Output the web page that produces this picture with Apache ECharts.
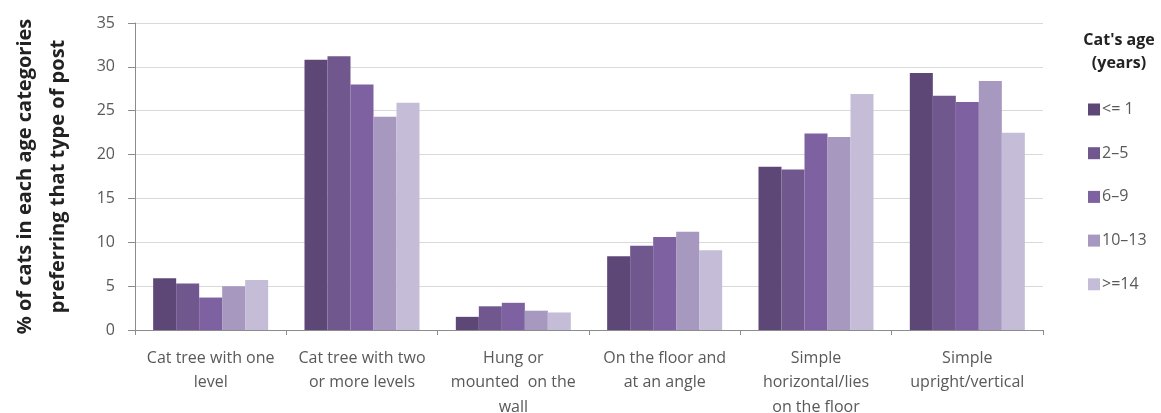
<!DOCTYPE html>
<html><head><meta charset="utf-8">
<script src="https://cdn.jsdelivr.net/npm/echarts@6/dist/echarts.min.js"></script>
<style>html,body{margin:0;padding:0;background:#fff}#c{width:1161px;height:413px}</style>
</head><body><div id="c"></div>
<script>
const categories = ["Cat tree with one\nlevel", "Cat tree with two\nor more levels", "Hung or\nmounted  on the\nwall", "On the floor and\nat an angle", "Simple\nhorizontal/lies\non the floor", "Simple\nupright/vertical"];
const seriesNames = ["<= 1", "2\u20135", "6\u20139", "10\u201313", ">=14"];
const age1 = [5.9, 30.8, 1.5, 8.4, 18.6, 29.3];
const age2_5 = [5.3, 31.2, 2.7, 9.6, 18.3, 26.7];
const age6_9 = [3.7, 28.0, 3.1, 10.6, 22.4, 26.0];
const age10_13 = [5.0, 24.3, 2.2, 11.2, 22.0, 28.4];
const age14 = [5.7, 25.9, 2.0, 9.1, 26.9, 22.5];
const yTicks = [0, 5, 10, 15, 20, 25, 30, 35];
const colors = ["#5d4777", "#70578e", "#7d61a0", "#a698bf", "#c5bdd7"];
const values = [age1, age2_5, age6_9, age10_13, age14];

const chart = echarts.init(document.getElementById('c'));
const font = "'Open Sans', sans-serif";
chart.setOption({
  animation: false,
  textStyle: { fontFamily: font },
  grid: { left: 135, right: 118, top: 23, bottom: 83, outerBoundsMode: 'none', containLabel: false },
  title: {
    text: "Cat's age\n(years)", left: 1114, top: 24, textAlign: 'center',
    textStyle: { fontFamily: font, fontSize: 16, fontWeight: 'bold', color: '#222', lineHeight: 23 }
  },
  legend: {
    orient: 'vertical', left: 1088, top: 101, itemWidth: 12, itemHeight: 12, itemGap: 26.7,
    icon: 'rect', data: seriesNames, padding: 0,
    textStyle: { fontFamily: font, fontSize: 16, color: '#595959', lineHeight: 17, padding: [0, 0, 0, -3] }
  },
  xAxis: {
    type: 'category', data: categories,
    axisLine: { lineStyle: { color: '#8c8c8c', width: 1 } },
    axisTick: { show: true, length: 5, lineStyle: { color: '#8c8c8c' } },
    axisLabel: { interval: 0, fontFamily: font, fontSize: 16, color: '#595959', lineHeight: 24.5, margin: 16 }
  },
  yAxis: {
    type: 'value', min: 0, max: 35, interval: 5,
    name: "% of cats in each age categories\npreferring that type of post",
    nameLocation: 'middle', nameGap: 60,
    nameTextStyle: { fontFamily: font, fontSize: 20, fontWeight: 'bold', color: '#222', lineHeight: 33 },
    axisLine: { show: true, lineStyle: { color: '#8c8c8c' } },
    axisTick: { show: true, length: 7, lineStyle: { color: '#8c8c8c' } },
    axisLabel: { fontFamily: font, fontSize: 16, color: '#595959', margin: 20,
      formatter: v => yTicks.includes(v) ? String(v) : '' },
    splitLine: { lineStyle: { color: '#d9d9d9' } }
  },
  series: seriesNames.map((n, i) => ({
    name: n, type: 'bar', data: values[i], barGap: '0%', barCategoryGap: '24%',
    itemStyle: { color: colors[i] }
  }))
});
</script></body></html>
